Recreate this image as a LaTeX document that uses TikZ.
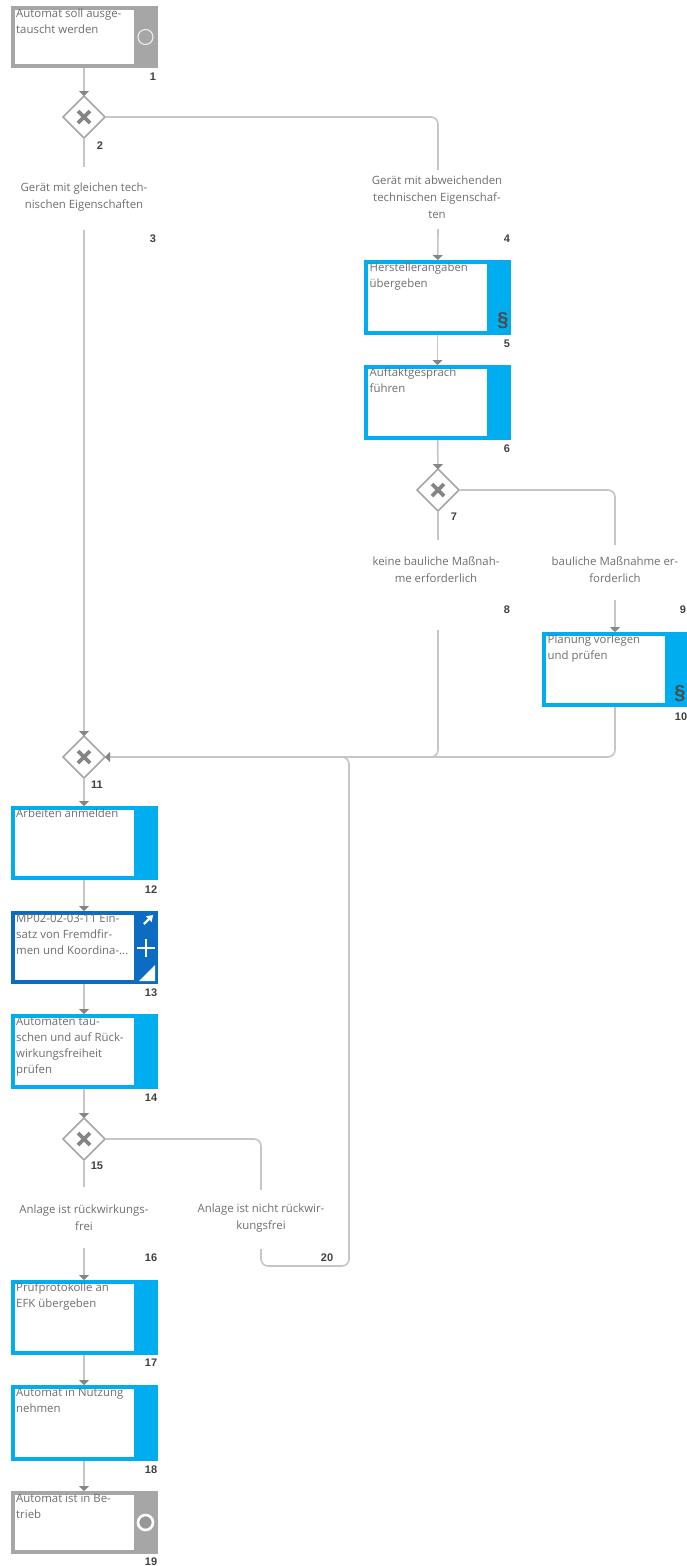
\documentclass[tikz,border=0pt]{standalone}
\usepackage{fontspec}
\setmainfont{Open Sans}
\newfontfamily\numfont{Liberation Sans}
\usetikzlibrary{arrows.meta,shapes.geometric,calc}
\definecolor{cyanbox}{HTML}{00AEEF}
\definecolor{bluebox}{HTML}{0B6CC1}
\definecolor{greybox}{HTML}{A6A6A6}
\definecolor{flowline}{HTML}{C6C6C6}
\definecolor{tipgrey}{HTML}{858585}
\definecolor{txtgrey}{HTML}{6E6E6E}
\tikzset{
  x=1pt,y=-1pt,
  flow/.style={draw=flowline,line width=1.6pt,rounded corners=7pt},
  flowarrow/.style={flow,-{Triangle[length=5pt,width=10pt,color=tipgrey]}},
  box/.style={rectangle,draw=#1,fill=white,line width=4pt,outer sep=2pt,minimum width=143pt,inner sep=0pt},
  boxtext/.style={anchor=north west,align=left,inner sep=0pt,text=txtgrey,font=\fontsize{11.4}{16}\selectfont},
  lbl/.style={align=center,inner sep=0pt,text=txtgrey,font=\fontsize{11.4}{16.8}\selectfont},
  num/.style={inner sep=0pt,text=black!75,font=\numfont\bfseries\fontsize{11}{12}\selectfont},
  para/.style={inner sep=0pt,text=black!70,font=\numfont\bfseries\fontsize{20}{20}\selectfont},
  gate/.style={diamond,draw=greybox,fill=white,line width=1.5pt,minimum width=42pt,minimum height=42pt,inner sep=0pt,outer sep=0pt,
    path picture={\draw[tipgrey,line width=3.6pt]
      ($(path picture bounding box.center)+(-6,-6)$) -- ($(path picture bounding box.center)+(6,6)$)
      ($(path picture bounding box.center)+(-6,6)$) -- ($(path picture bounding box.center)+(6,-6)$);}},
}
% name, centre x, top y, bottom y, colour, text
\newcommand{\procbox}[6]{%
  \node[box=#5,minimum height=#4-#3-4pt] (#1) at (#2,{(#3+#4)/2}) {};
  \fill[#5] ($(#1.north east)+(-24,0)$) rectangle (#1.south east);
  \node[boxtext] (#1t) at ($(#1.north west)+(5.5,3)$) {#6};
}
\begin{document}
\begin{tikzpicture}
\useasboundingbox (0,0) rectangle (687,1566);
\clip (0,0) rectangle (687,1566);

% boxes
\procbox{b1}{84}{6}{68}{greybox}{Automat soll ausge-\\tauscht werden}
\procbox{b5}{437.5}{260}{335}{cyanbox}{Herstellerangaben\\übergeben}
\procbox{b6}{437.5}{365}{440}{cyanbox}{Auftaktgespräch\\führen}
\procbox{b10}{615.5}{632}{707}{cyanbox}{Planung vorlegen\\und prüfen}
\procbox{b12}{84}{806}{880}{cyanbox}{Arbeiten anmelden}
\procbox{b13}{84}{911}{984}{bluebox}{MP02-02-03-11 Ein-\\satz von Fremdfir-\\men und Koordina-...}
\procbox{b14}{84}{1014}{1089}{cyanbox}{Automaten tau-\\schen und auf Rück-\\wirkungsfreiheit\\prüfen}
\procbox{b17}{84}{1280}{1355}{cyanbox}{Prüfprotokolle an\\EFK übergeben}
\procbox{b18}{84}{1385}{1461}{cyanbox}{Automat in Nutzung\\nehmen}
\procbox{b19}{84}{1491}{1554}{greybox}{Automat ist in Be-\\trieb}

% gateways
\node[gate] (g2) at (84,117) {};
\node[gate] (g7) at (438,490) {};
\node[gate] (g11) at (84,757) {};
\node[gate] (g15) at (84,1139) {};

% condition labels
\node[lbl] (l3) at (84,197) {Gerät mit gleichen tech-\\nischen Eigenschaften};
\node[lbl] (l4) at (437,197) {Gerät mit abweichenden\\technischen Eigenschaf-\\ten};
\node[lbl] (l8) at (436,570) {keine bauliche Maßnah-\\me erforderlich};
\node[lbl] (l9) at (615,570) {bauliche Maßnahme er-\\forderlich};
\node[lbl] (l16) at (84,1218) {Anlage ist rückwirkungs-\\frei};
\node[lbl] (l20) at (261,1218) {Anlage ist nicht rückwir-\\kungsfrei};

% free ends of the interrupted connectors
\coordinate (c2s) at (84,167);
\coordinate (c3) at (84,230);
\coordinate (c2e) at (438,170);
\coordinate (c4) at (438,229);
\coordinate (c7s) at (438,540);
\coordinate (c8) at (438,630);
\coordinate (c7e) at (615,545);
\coordinate (c9) at (615,600);
\coordinate (c15s) at (84,1187);
\coordinate (c16) at (84,1248);
\coordinate (c15e) at (261,1190);
\coordinate (c20) at (261,1249);

% connectors
\draw[flowarrow] (b1) -- (g2);
\draw[flow] (g2) -- (c2s);
\draw[flowarrow] (c3) -- (g11);
\draw[flow] (g2) -| (c2e);
\draw[flowarrow] (c4) -- (b5);
\draw[flowarrow] (b5) -- (b6);
\draw[flowarrow] (b6) -- (g7);
\draw[flow] (g7) -- (c7s);
\draw[flow] (g7) -| (c7e);
\draw[flowarrow] (c9) -- (b10.north -| c9);
\draw[flow] (c8) |- ($(g11)+(100,0)$);
\draw[flowarrow] (b10.south -| c9) |- (g11);
\draw[flowarrow] (g11) -- (b12);
\draw[flowarrow] (b12) -- (b13);
\draw[flowarrow] (b13) -- (b14);
\draw[flowarrow] (b14) -- (g15);
\draw[flow] (g15) -- (c15s);
\draw[flow] (g15) -| (c15e);
\draw[flowarrow] (c16) -- (b17);
\draw[flowarrow] (b17) -- (b18);
\draw[flowarrow] (b18) -- (b19);
\draw[flow] (c20) -- (261,1266) -- (349,1266) -- (349,757) -- (g11.east -| 330,0);

% event circles
\draw[white!80!greybox,line width=1.1pt] ($(b1.east)+(-12,0)$) circle (7.5);
\draw[white,fill=tipgrey!85!white,line width=2.6pt] ($(b19.east)+(-12,0)$) circle (7.5);

% paragraph signs
\node[para] (p5) at (503,321) {§};
\node[para] (p10) at (680,694) {§};

% subprocess icons on box 13
\draw[white,line width=2.2pt,-{Triangle[length=6pt,width=8pt,fill=white]}] (144,924) -- (153,915);
\draw[white,line width=2.8pt] (137,948) -- (155,948) (146,939) -- (146,957);
\fill[white] (155,965) -- (155,981) -- (139,981) -- cycle;

% numbers
\node[num] (n1) at (153,77) {1};
\node[num] (n2) at (100,146) {2};
\node[num] (n3) at (153,239) {3};
\node[num] (n4) at (507,239) {4};
\node[num] (n5) at (507,344) {5};
\node[num] (n6) at (507,449) {6};
\node[num] (n7) at (454,517) {7};
\node[num] (n8) at (507,610) {8};
\node[num] (n9) at (683,610) {9};
\node[num] (n10) at (681,717) {10};
\node[num] (n11) at (97,785) {11};
\node[num] (n12) at (151,890) {12};
\node[num] (n13) at (151,993) {13};
\node[num] (n14) at (151,1098) {14};
\node[num] (n15) at (97,1166) {15};
\node[num] (n16) at (151,1258) {16};
\node[num] (n17) at (151,1363) {17};
\node[num] (n18) at (151,1470) {18};
\node[num] (n19) at (151,1562) {19};
\node[num] (n20) at (327,1258) {20};
\end{tikzpicture}
\end{document}
